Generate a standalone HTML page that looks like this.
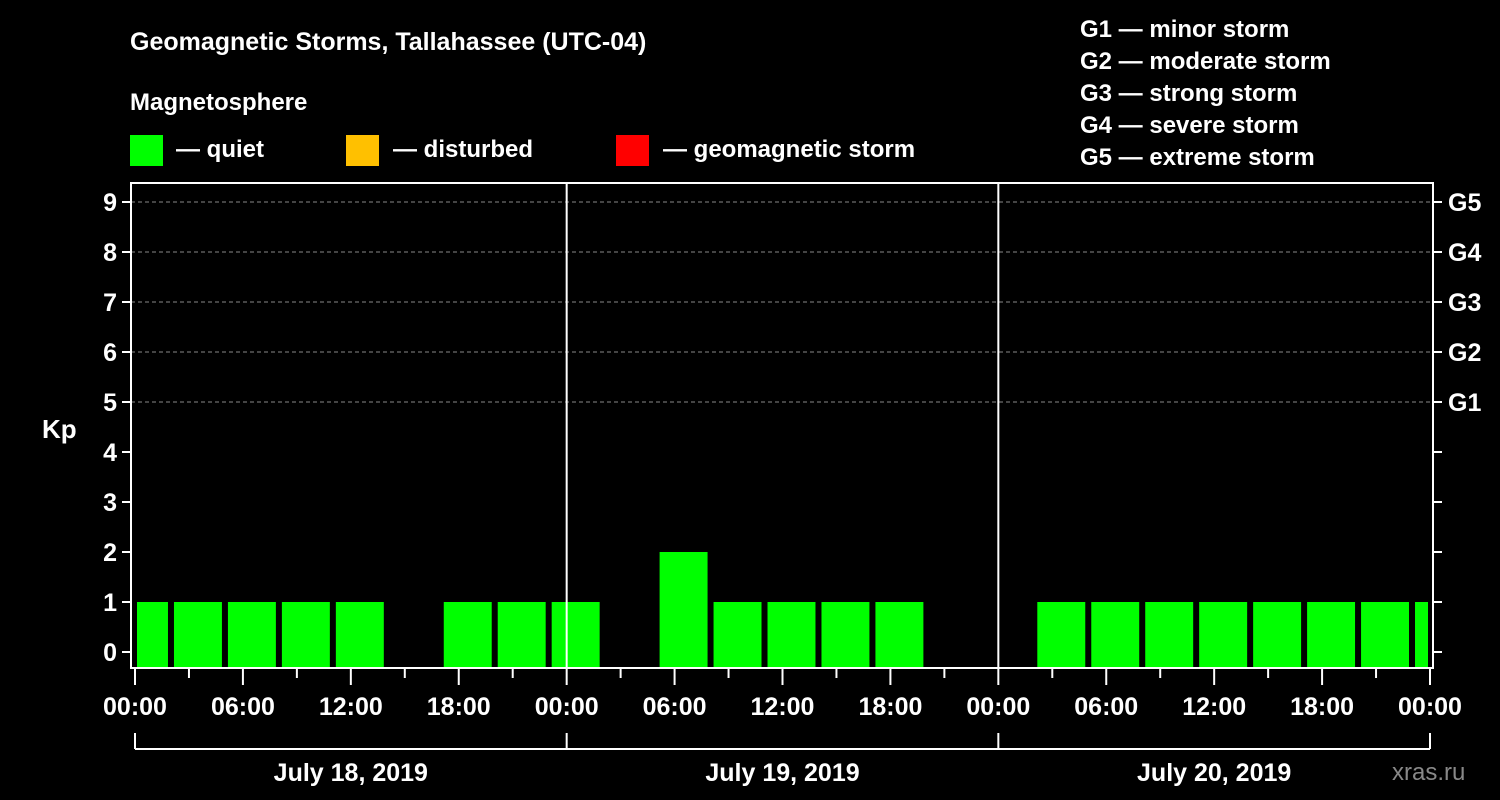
<!DOCTYPE html>
<html><head><meta charset="utf-8"><style>
body{margin:0;background:#000;width:1500px;height:800px;overflow:hidden}
svg{display:block;font-family:"Liberation Sans",Arial,sans-serif;font-weight:bold}
</style></head><body>
<svg id="c" width="1500" height="800">
<text x="130" y="50" fill="#fff" font-size="25">Geomagnetic Storms, Tallahassee (UTC-04)</text>
<text x="130" y="110" fill="#fff" font-size="24">Magnetosphere</text>
<g><rect x="130" y="135" width="33" height="31" fill="#00ff00"/><text x="176" y="157" fill="#fff" font-size="24">— quiet</text></g>
<g><rect x="346" y="135" width="33" height="31" fill="#ffc000"/><text x="393" y="157" fill="#fff" font-size="24">— disturbed</text></g>
<g><rect x="616" y="135" width="33" height="31" fill="#ff0000"/><text x="663" y="157" fill="#fff" font-size="24">— geomagnetic storm</text></g>
<g fill="#fff" font-size="24">
<text x="1080" y="37">G1 — minor storm</text><text x="1080" y="69">G2 — moderate storm</text><text x="1080" y="101">G3 — strong storm</text><text x="1080" y="133">G4 — severe storm</text><text x="1080" y="165">G5 — extreme storm</text></g>
<text x="42" y="438" fill="#fff" font-size="26">Kp</text>
<text x="1392" y="780" fill="#888" font-size="24" font-weight="normal">xras.ru</text>
<g id="plot"></g>
</svg>
<script>
const startHours=[-1,2,5,8,11,14,17,20,23,26,29,32,35,38,41,44,47,50,53,56,59,62,65,68,71];
const kpValues=[1,1,1,1,1,0,1,1,1,0,2,1,1,1,1,0,0,1,1,1,1,1,1,1,1];
const yTicks=[0,1,2,3,4,5,6,7,8,9];
const gLabels=["G1","G2","G3","G4","G5"];
const xLabels=["00:00","06:00","12:00","18:00","00:00","06:00","12:00","18:00","00:00","06:00","12:00","18:00","00:00"];
const dayLabels=["July 18, 2019","July 19, 2019","July 20, 2019"];
const NS="http://www.w3.org/2000/svg";
const g=document.getElementById('plot');
const x=h=>135+h*(1295/72);
const y=v=>652-v*50;
const L=131,R=1433,T=183,B=668;
function mk(t,a){const e=document.createElementNS(NS,t);for(const k in a)e.setAttribute(k,a[k]);g.appendChild(e);return e;}
// grid
for(let v=5;v<=9;v++){const e=mk('line',{x1:L,x2:R,y1:y(v),y2:y(v),stroke:'#888','stroke-dasharray':'4,3','stroke-width':1});

}
// bars
startHours.forEach((h,i)=>{const v=kpValues[i];if(!v)return;
let x1=Math.max(x(h)+3,137),x2=Math.min(x(h+3)-3,1428);
const r=mk('rect',{x:x1,y:y(v),width:x2-x1,height:B-y(v),fill:v>=5?'#ff0000':v>=4?'#ffc000':'#00ff00'});

});
// day dividers
[24,48].forEach(h=>{const e=mk('line',{x1:x(h),x2:x(h),y1:T,y2:B,stroke:'#fff','stroke-width':2});

});
// frame
const f=mk('rect',{x:L,y:T,width:R-L,height:B-T,fill:'none',stroke:'#fff','stroke-width':2});


// y ticks
yTicks.forEach(v=>{mk('line',{x1:L-9,x2:L,y1:y(v),y2:y(v),stroke:'#fff','stroke-width':2});
mk('line',{x1:R,x2:R+9,y1:y(v),y2:y(v),stroke:'#fff','stroke-width':2});
const t=mk('text',{x:L-14,y:y(v)+9,fill:'#fff','font-size':25,'text-anchor':'end'});t.textContent=v;

});
gLabels.forEach((s,i)=>{const t=mk('text',{x:1448,y:y(5+i)+9,fill:'#fff','font-size':25});t.textContent=s;

});
// x ticks
for(let h=0;h<=72;h+=3){const maj=h%6==0;mk('line',{x1:x(h),x2:x(h),y1:B+1,y2:B+(maj?17:10),stroke:'#fff','stroke-width':2});}
xLabels.forEach((s,i)=>{const t=mk('text',{x:x(i*6),y:715,fill:'#fff','font-size':25,'text-anchor':'middle'});t.textContent=s;

});
// date bracket
mk('line',{x1:x(0),x2:x(72),y1:749,y2:749,stroke:'#fff','stroke-width':2});
for(let d=0;d<=3;d++)mk('line',{x1:x(d*24),x2:x(d*24),y1:733,y2:749,stroke:'#fff','stroke-width':2});
dayLabels.forEach((s,i)=>{const t=mk('text',{x:x(i*24+12),y:781,fill:'#fff','font-size':25,'text-anchor':'middle'});t.textContent=s;

});
</script>
</body></html>
